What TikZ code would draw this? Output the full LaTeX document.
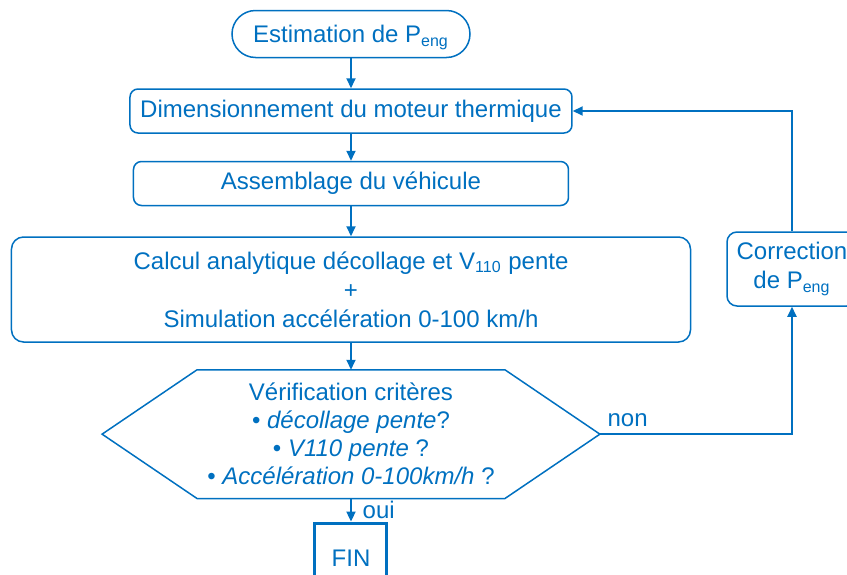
\documentclass[tikz,border=0pt]{standalone}
\usepackage{fontspec}
\setmainfont{Liberation Sans}
\usetikzlibrary{arrows.meta,positioning}
\definecolor{flowblue}{RGB}{0,112,192}

\begin{document}
\begin{tikzpicture}[>={Triangle[length=5pt,width=4.5pt]},node distance=15pt,
 every node/.style={text=flowblue,font=\fontsize{12}{14.5}\selectfont},
 link/.style={draw=flowblue,line width=1pt},
 box/.style={draw=flowblue,line width=0.75pt,rounded corners=4pt,align=center,inner sep=0pt}]
\path[use as bounding box,clip] (-175.5pt,17pt) rectangle (248pt,-270pt);
\node[box,rounded corners=11.75pt,minimum width=119pt,minimum height=23.5pt,
 text height=8.6pt,text depth=0pt] (start) at (0,0)
 {Estimation de P\textsubscript{eng}};
\node[box,below=of start,minimum width=221pt,minimum height=22pt] (dim)
 {Dimensionnement du moteur thermique};
\node[box,below=13.5pt of dim,minimum width=217.5pt,minimum height=22pt] (assem)
 {Assemblage du véhicule};
\node[box,below=of assem,rounded corners=6pt,minimum width=339.5pt,minimum height=52.5pt] (calc)
 {Calcul analytique décollage et V\textsubscript{110} pente\\+\\Simulation accélération 0-100 km/h};
\node[below=13.5pt of calc,minimum width=248.5pt,minimum height=64pt,align=center,inner sep=0pt,
 font=\fontsize{12}{14}\selectfont] (verif)
 {Vérification critères\\• \textit{décollage pente}?\\• \textit{V110 pente} ?\\• \textit{Accélération 0-100km/h} ?};
\draw[draw=flowblue,line width=0.75pt] (verif.west) -- ([xshift=47.5pt]verif.north west)
 -- ([xshift=-47.5pt]verif.north east) -- (verif.east) -- ([xshift=-47.5pt]verif.south east)
 -- ([xshift=47.5pt]verif.south west) -- cycle;
\node[box,below=11.5pt of verif,rounded corners=0pt,line width=1.5pt,minimum width=36pt,minimum height=35pt] (fin) {FIN};
\node[box,rounded corners=5pt,minimum width=65pt,minimum height=37pt] (corr) at (220.5pt,-117.5pt)
 {Correction\\de P\textsubscript{eng}};
\draw[link,->] (start)--(dim);
\draw[link,->] (dim)--(assem);
\draw[link,->] (assem)--(calc);
\draw[link,->] (calc)--(verif);
\draw[link,->] (verif)--node[right,xshift=2pt] {oui}(fin);
\draw[link,->] (verif.east)-|node[pos=0,above right] {non}(corr.south);
\draw[link,->] (corr.north)|-(dim.east);
\end{tikzpicture}
\end{document}
